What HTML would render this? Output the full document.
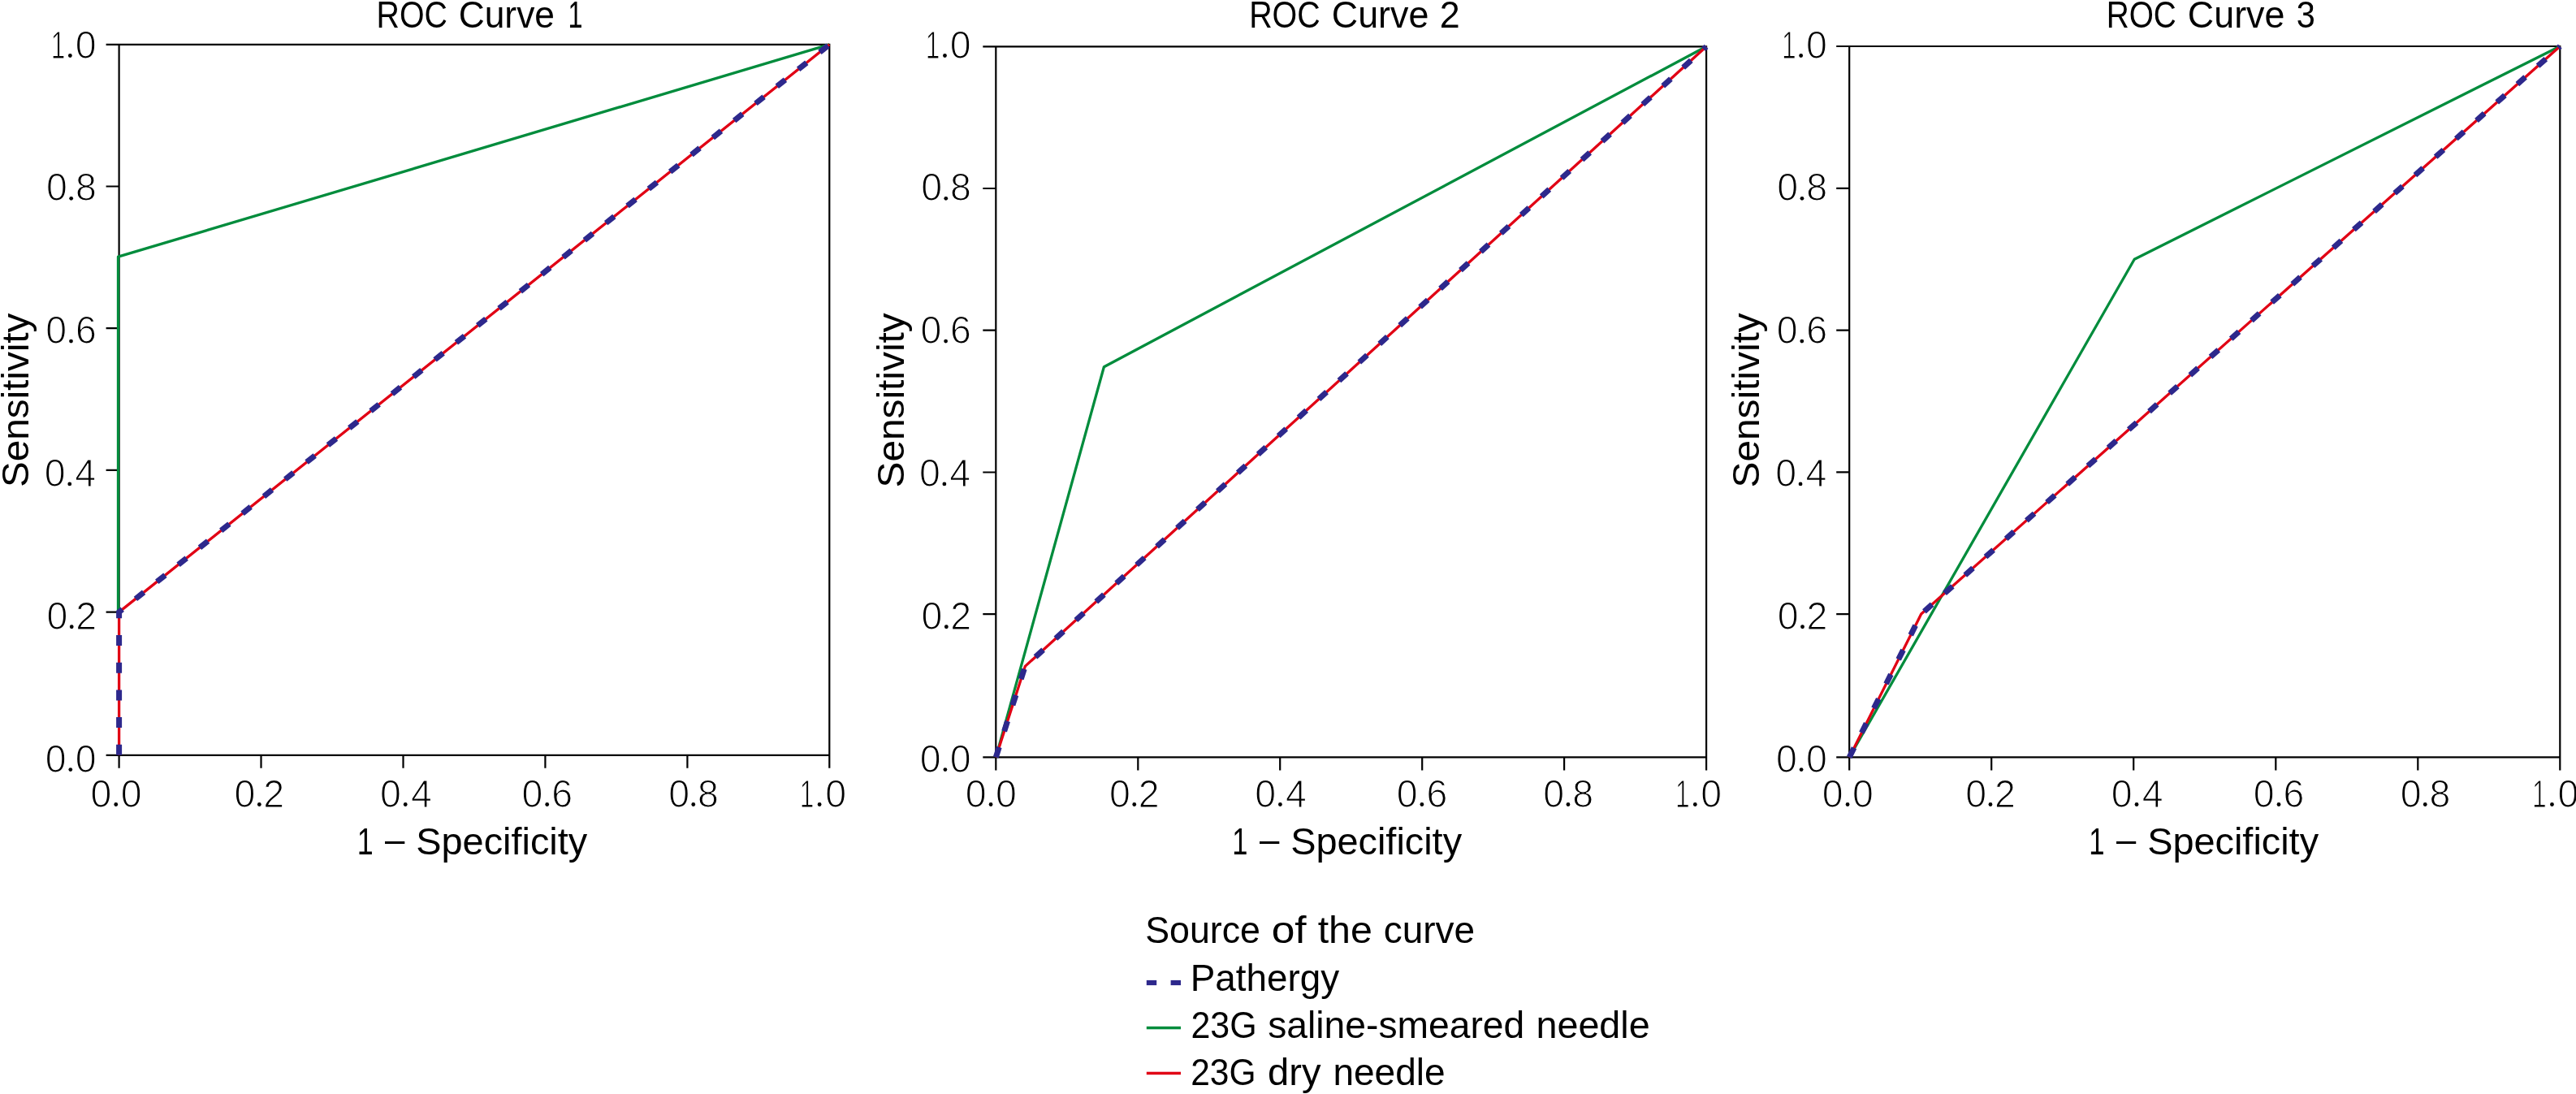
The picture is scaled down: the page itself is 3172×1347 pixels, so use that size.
<!DOCTYPE html>
<html><head><meta charset="utf-8"><style>
html,body{margin:0;padding:0;background:#fff;width:3172px;height:1347px;overflow:hidden}
svg{display:block;will-change:transform}
text{font-family:"Liberation Sans", sans-serif;fill:#000;white-space:pre}
.t{stroke:#fff;stroke-width:1.2px;paint-order:normal}
</style></head><body>
<svg width="3172" height="1347" viewBox="0 0 3172 1347">

<path d="M130.6,54.8H1021.3V945.8M146.6,54.8V945.8M130.6,929.8H1021.3" fill="none" stroke="#000" stroke-width="2.2"/>
<path d="M130.6,753.6H146.6M321.5,929.8V945.8M130.6,578.9H146.6M496.5,929.8V945.8M130.6,404.2H146.6M671.4,929.8V945.8M130.6,229.5H146.6M846.4,929.8V945.8" fill="none" stroke="#000" stroke-width="2.2"/>
<polyline points="145.5,753.6 145.5,316.2 1021.3,54.8" fill="none" stroke="#008c3c" stroke-width="3.3" stroke-linejoin="round"/>
<polyline points="146.6,929.8 146.6,753.6 1021.3,54.8" fill="none" stroke="#e10014" stroke-width="3.3" stroke-linejoin="round"/>
<polyline points="146.6,929.8 146.6,753.6 1021.3,54.8" fill="none" stroke="#2d288c" stroke-width="7" stroke-dasharray="13 20.7" stroke-linejoin="miter"/>
<path d="M1210.3,57.3H2101.1V948.4M1226.3,57.3V948.4M1210.3,932.4H2101.1" fill="none" stroke="#000" stroke-width="2.2"/>
<path d="M1210.3,756.2H1226.3M1401.3,932.4V948.4M1210.3,581.5H1226.3M1576.2,932.4V948.4M1210.3,406.7H1226.3M1751.2,932.4V948.4M1210.3,232.0H1226.3M1926.1,932.4V948.4" fill="none" stroke="#000" stroke-width="2.2"/>
<polyline points="1226.3,932.4 1359.4,451.7 2101.1,57.3" fill="none" stroke="#008c3c" stroke-width="3.3" stroke-linejoin="round"/>
<polyline points="1226.3,932.4 1262.3,820.4 2101.1,57.3" fill="none" stroke="#e10014" stroke-width="3.3" stroke-linejoin="round"/>
<polyline points="1226.3,932.4 1262.3,820.4 2101.1,57.3" fill="none" stroke="#2d288c" stroke-width="7" stroke-dasharray="13 20.7" stroke-linejoin="miter"/>
<path d="M2261.2,57.0H3152.3V948.4M2277.2,57.0V948.4M2261.2,932.4H3152.3" fill="none" stroke="#000" stroke-width="2.2"/>
<path d="M2261.2,756.1H2277.2M2452.2,932.4V948.4M2261.2,581.3H2277.2M2627.2,932.4V948.4M2261.2,406.6H2277.2M2802.3,932.4V948.4M2261.2,231.8H2277.2M2977.3,932.4V948.4" fill="none" stroke="#000" stroke-width="2.2"/>
<polyline points="2277.2,932.4 2628.2,319.2 3152.3,57.0" fill="none" stroke="#008c3c" stroke-width="3.3" stroke-linejoin="round"/>
<polyline points="2277.2,932.4 2365.7,756.1 3152.3,57.0" fill="none" stroke="#e10014" stroke-width="3.3" stroke-linejoin="round"/>
<polyline points="2277.2,932.4 2365.7,756.1 3152.3,57.0" fill="none" stroke="#2d288c" stroke-width="7" stroke-dasharray="13 20.7" stroke-linejoin="miter"/>
<rect x="1411.8" y="1206.9" width="12.4" height="6.2" fill="#2d288c"/>
<rect x="1441.6" y="1206.9" width="12.4" height="6.2" fill="#2d288c"/>
<rect x="1411.8" y="1263.8" width="42.2" height="3.5" fill="#008c3c"/>
<rect x="1411.8" y="1319.7" width="42.2" height="3.5" fill="#e10014"/>
<text x="463.55" y="33.60" font-size="47.1" textLength="87.41" lengthAdjust="spacingAndGlyphs">ROC</text>
<text x="564.68" y="33.60" font-size="47.1" textLength="118.30" lengthAdjust="spacingAndGlyphs">Curve</text>
<text x="699.57" y="33.60" font-size="47.1" textLength="18.00" lengthAdjust="spacingAndGlyphs">1</text>
<text x="1538.15" y="33.60" font-size="47.1" textLength="87.62" lengthAdjust="spacingAndGlyphs">ROC</text>
<text x="1639.76" y="33.60" font-size="47.1" textLength="119.65" lengthAdjust="spacingAndGlyphs">Curve</text>
<text x="1772.86" y="33.60" font-size="47.1" textLength="24.94" lengthAdjust="spacingAndGlyphs">2</text>
<text x="2593.70" y="33.60" font-size="47.1" textLength="86.14" lengthAdjust="spacingAndGlyphs">ROC</text>
<text x="2693.86" y="33.60" font-size="47.1" textLength="119.55" lengthAdjust="spacingAndGlyphs">Curve</text>
<text x="2827.64" y="33.60" font-size="47.1" textLength="23.07" lengthAdjust="spacingAndGlyphs">3</text>
<text x="439.71" y="1051.90" font-size="47.0" textLength="19.93" lengthAdjust="spacingAndGlyphs">1</text>
<text x="474.00" y="1048.60" font-size="47.0" textLength="24.35" lengthAdjust="spacingAndGlyphs">–</text>
<text x="512.29" y="1051.90" font-size="47.0" textLength="210.88" lengthAdjust="spacingAndGlyphs">Specificity</text>
<text x="1517.32" y="1051.90" font-size="47.0" textLength="19.16" lengthAdjust="spacingAndGlyphs">1</text>
<text x="1550.90" y="1048.60" font-size="47.0" textLength="24.35" lengthAdjust="spacingAndGlyphs">–</text>
<text x="1589.19" y="1051.90" font-size="47.0" textLength="210.88" lengthAdjust="spacingAndGlyphs">Specificity</text>
<text x="2572.20" y="1051.90" font-size="47.0" textLength="19.29" lengthAdjust="spacingAndGlyphs">1</text>
<text x="2605.90" y="1048.60" font-size="47.0" textLength="24.25" lengthAdjust="spacingAndGlyphs">–</text>
<text x="2644.19" y="1051.90" font-size="47.0" textLength="210.88" lengthAdjust="spacingAndGlyphs">Specificity</text>
<text transform="translate(35.10,600.04) rotate(-90)" x="0" y="0" font-size="47.0" textLength="214.42" lengthAdjust="spacingAndGlyphs">Sensitivity</text>
<text transform="translate(1112.70,600.45) rotate(-90)" x="0" y="0" font-size="47.0" textLength="215.13" lengthAdjust="spacingAndGlyphs">Sensitivity</text>
<text transform="translate(2166.00,600.45) rotate(-90)" x="0" y="0" font-size="47.0" textLength="215.13" lengthAdjust="spacingAndGlyphs">Sensitivity</text>
<text class="t" x="55.64" y="950.55" font-size="48.5" textLength="25.84" lengthAdjust="spacingAndGlyphs">0</text>
<text class="t" x="92.66" y="950.55" font-size="48.5" textLength="25.84" lengthAdjust="spacingAndGlyphs">0</text>
<circle cx="86.80" cy="947.55" r="2.4"/>
<text class="t" x="57.44" y="774.74" font-size="48.5" textLength="25.84" lengthAdjust="spacingAndGlyphs">0</text>
<text class="t" x="93.24" y="774.74" font-size="48.5" textLength="25.84" lengthAdjust="spacingAndGlyphs">2</text>
<circle cx="88.22" cy="771.74" r="2.4"/>
<text class="t" x="54.84" y="598.93" font-size="48.5" textLength="25.84" lengthAdjust="spacingAndGlyphs">0</text>
<text class="t" x="92.19" y="598.93" font-size="48.5" textLength="25.84" lengthAdjust="spacingAndGlyphs">4</text>
<circle cx="85.76" cy="595.93" r="2.4"/>
<text class="t" x="56.34" y="423.12" font-size="48.5" textLength="25.84" lengthAdjust="spacingAndGlyphs">0</text>
<text class="t" x="92.89" y="423.12" font-size="48.5" textLength="25.84" lengthAdjust="spacingAndGlyphs">6</text>
<circle cx="87.50" cy="420.12" r="2.4"/>
<text class="t" x="57.04" y="247.31" font-size="48.5" textLength="25.84" lengthAdjust="spacingAndGlyphs">0</text>
<text class="t" x="92.89" y="247.31" font-size="48.5" textLength="25.84" lengthAdjust="spacingAndGlyphs">8</text>
<circle cx="87.67" cy="244.31" r="2.4"/>
<text class="t" x="62.72" y="71.50" font-size="48.5" textLength="17.62" lengthAdjust="spacingAndGlyphs">1</text>
<text class="t" x="92.66" y="71.50" font-size="48.5" textLength="25.84" lengthAdjust="spacingAndGlyphs">0</text>
<circle cx="86.36" cy="68.50" r="2.4"/>
<text class="t" x="1132.74" y="950.55" font-size="48.5" textLength="25.84" lengthAdjust="spacingAndGlyphs">0</text>
<text class="t" x="1169.76" y="950.55" font-size="48.5" textLength="25.84" lengthAdjust="spacingAndGlyphs">0</text>
<circle cx="1163.90" cy="947.55" r="2.4"/>
<text class="t" x="1134.54" y="774.74" font-size="48.5" textLength="25.84" lengthAdjust="spacingAndGlyphs">0</text>
<text class="t" x="1170.34" y="774.74" font-size="48.5" textLength="25.84" lengthAdjust="spacingAndGlyphs">2</text>
<circle cx="1165.32" cy="771.74" r="2.4"/>
<text class="t" x="1131.94" y="598.93" font-size="48.5" textLength="25.84" lengthAdjust="spacingAndGlyphs">0</text>
<text class="t" x="1169.29" y="598.93" font-size="48.5" textLength="25.84" lengthAdjust="spacingAndGlyphs">4</text>
<circle cx="1162.86" cy="595.93" r="2.4"/>
<text class="t" x="1133.44" y="423.12" font-size="48.5" textLength="25.84" lengthAdjust="spacingAndGlyphs">0</text>
<text class="t" x="1169.99" y="423.12" font-size="48.5" textLength="25.84" lengthAdjust="spacingAndGlyphs">6</text>
<circle cx="1164.60" cy="420.12" r="2.4"/>
<text class="t" x="1134.14" y="247.31" font-size="48.5" textLength="25.84" lengthAdjust="spacingAndGlyphs">0</text>
<text class="t" x="1169.99" y="247.31" font-size="48.5" textLength="25.84" lengthAdjust="spacingAndGlyphs">8</text>
<circle cx="1164.77" cy="244.31" r="2.4"/>
<text class="t" x="1139.82" y="71.50" font-size="48.5" textLength="17.62" lengthAdjust="spacingAndGlyphs">1</text>
<text class="t" x="1169.76" y="71.50" font-size="48.5" textLength="25.84" lengthAdjust="spacingAndGlyphs">0</text>
<circle cx="1163.46" cy="68.50" r="2.4"/>
<text class="t" x="2186.94" y="950.55" font-size="48.5" textLength="25.84" lengthAdjust="spacingAndGlyphs">0</text>
<text class="t" x="2223.96" y="950.55" font-size="48.5" textLength="25.84" lengthAdjust="spacingAndGlyphs">0</text>
<circle cx="2218.10" cy="947.55" r="2.4"/>
<text class="t" x="2188.74" y="774.74" font-size="48.5" textLength="25.84" lengthAdjust="spacingAndGlyphs">0</text>
<text class="t" x="2224.54" y="774.74" font-size="48.5" textLength="25.84" lengthAdjust="spacingAndGlyphs">2</text>
<circle cx="2219.52" cy="771.74" r="2.4"/>
<text class="t" x="2186.14" y="598.93" font-size="48.5" textLength="25.84" lengthAdjust="spacingAndGlyphs">0</text>
<text class="t" x="2223.49" y="598.93" font-size="48.5" textLength="25.84" lengthAdjust="spacingAndGlyphs">4</text>
<circle cx="2217.06" cy="595.93" r="2.4"/>
<text class="t" x="2187.64" y="423.12" font-size="48.5" textLength="25.84" lengthAdjust="spacingAndGlyphs">0</text>
<text class="t" x="2224.19" y="423.12" font-size="48.5" textLength="25.84" lengthAdjust="spacingAndGlyphs">6</text>
<circle cx="2218.80" cy="420.12" r="2.4"/>
<text class="t" x="2188.34" y="247.31" font-size="48.5" textLength="25.84" lengthAdjust="spacingAndGlyphs">0</text>
<text class="t" x="2224.19" y="247.31" font-size="48.5" textLength="25.84" lengthAdjust="spacingAndGlyphs">8</text>
<circle cx="2218.97" cy="244.31" r="2.4"/>
<text class="t" x="2194.02" y="71.50" font-size="48.5" textLength="17.62" lengthAdjust="spacingAndGlyphs">1</text>
<text class="t" x="2223.96" y="71.50" font-size="48.5" textLength="25.84" lengthAdjust="spacingAndGlyphs">0</text>
<circle cx="2217.66" cy="68.50" r="2.4"/>
<text class="t" x="111.54" y="993.50" font-size="48.5" textLength="25.84" lengthAdjust="spacingAndGlyphs">0</text>
<text class="t" x="148.66" y="993.50" font-size="48.5" textLength="25.84" lengthAdjust="spacingAndGlyphs">0</text>
<circle cx="142.75" cy="990.50" r="2.4"/>
<text class="t" x="288.54" y="993.50" font-size="48.5" textLength="25.84" lengthAdjust="spacingAndGlyphs">0</text>
<text class="t" x="324.34" y="993.50" font-size="48.5" textLength="25.84" lengthAdjust="spacingAndGlyphs">2</text>
<circle cx="319.32" cy="990.50" r="2.4"/>
<text class="t" x="468.04" y="993.50" font-size="48.5" textLength="25.84" lengthAdjust="spacingAndGlyphs">0</text>
<text class="t" x="505.89" y="993.50" font-size="48.5" textLength="25.84" lengthAdjust="spacingAndGlyphs">4</text>
<circle cx="499.21" cy="990.50" r="2.4"/>
<text class="t" x="642.44" y="993.50" font-size="48.5" textLength="25.84" lengthAdjust="spacingAndGlyphs">0</text>
<text class="t" x="679.19" y="993.50" font-size="48.5" textLength="25.84" lengthAdjust="spacingAndGlyphs">6</text>
<circle cx="673.70" cy="990.50" r="2.4"/>
<text class="t" x="823.14" y="993.50" font-size="48.5" textLength="25.84" lengthAdjust="spacingAndGlyphs">0</text>
<text class="t" x="858.99" y="993.50" font-size="48.5" textLength="25.84" lengthAdjust="spacingAndGlyphs">8</text>
<circle cx="853.77" cy="990.50" r="2.4"/>
<text class="t" x="984.72" y="993.50" font-size="48.5" textLength="17.62" lengthAdjust="spacingAndGlyphs">1</text>
<text class="t" x="1016.16" y="993.50" font-size="48.5" textLength="25.84" lengthAdjust="spacingAndGlyphs">0</text>
<circle cx="1009.11" cy="990.50" r="2.4"/>
<text class="t" x="1188.84" y="993.50" font-size="48.5" textLength="25.84" lengthAdjust="spacingAndGlyphs">0</text>
<text class="t" x="1225.96" y="993.50" font-size="48.5" textLength="25.84" lengthAdjust="spacingAndGlyphs">0</text>
<circle cx="1220.05" cy="990.50" r="2.4"/>
<text class="t" x="1365.99" y="993.50" font-size="48.5" textLength="25.84" lengthAdjust="spacingAndGlyphs">0</text>
<text class="t" x="1401.79" y="993.50" font-size="48.5" textLength="25.84" lengthAdjust="spacingAndGlyphs">2</text>
<circle cx="1396.77" cy="990.50" r="2.4"/>
<text class="t" x="1545.24" y="993.50" font-size="48.5" textLength="25.84" lengthAdjust="spacingAndGlyphs">0</text>
<text class="t" x="1583.09" y="993.50" font-size="48.5" textLength="25.84" lengthAdjust="spacingAndGlyphs">4</text>
<circle cx="1576.41" cy="990.50" r="2.4"/>
<text class="t" x="1719.64" y="993.50" font-size="48.5" textLength="25.84" lengthAdjust="spacingAndGlyphs">0</text>
<text class="t" x="1756.39" y="993.50" font-size="48.5" textLength="25.84" lengthAdjust="spacingAndGlyphs">6</text>
<circle cx="1750.90" cy="990.50" r="2.4"/>
<text class="t" x="1900.34" y="993.50" font-size="48.5" textLength="25.84" lengthAdjust="spacingAndGlyphs">0</text>
<text class="t" x="1936.19" y="993.50" font-size="48.5" textLength="25.84" lengthAdjust="spacingAndGlyphs">8</text>
<circle cx="1930.97" cy="990.50" r="2.4"/>
<text class="t" x="2062.92" y="993.50" font-size="48.5" textLength="17.62" lengthAdjust="spacingAndGlyphs">1</text>
<text class="t" x="2094.36" y="993.50" font-size="48.5" textLength="25.84" lengthAdjust="spacingAndGlyphs">0</text>
<circle cx="2087.31" cy="990.50" r="2.4"/>
<text class="t" x="2243.84" y="993.50" font-size="48.5" textLength="25.84" lengthAdjust="spacingAndGlyphs">0</text>
<text class="t" x="2280.96" y="993.50" font-size="48.5" textLength="25.84" lengthAdjust="spacingAndGlyphs">0</text>
<circle cx="2275.05" cy="990.50" r="2.4"/>
<text class="t" x="2420.19" y="993.50" font-size="48.5" textLength="25.84" lengthAdjust="spacingAndGlyphs">0</text>
<text class="t" x="2455.99" y="993.50" font-size="48.5" textLength="25.84" lengthAdjust="spacingAndGlyphs">2</text>
<circle cx="2450.97" cy="990.50" r="2.4"/>
<text class="t" x="2599.84" y="993.50" font-size="48.5" textLength="25.84" lengthAdjust="spacingAndGlyphs">0</text>
<text class="t" x="2637.69" y="993.50" font-size="48.5" textLength="25.84" lengthAdjust="spacingAndGlyphs">4</text>
<circle cx="2631.01" cy="990.50" r="2.4"/>
<text class="t" x="2774.74" y="993.50" font-size="48.5" textLength="25.84" lengthAdjust="spacingAndGlyphs">0</text>
<text class="t" x="2811.49" y="993.50" font-size="48.5" textLength="25.84" lengthAdjust="spacingAndGlyphs">6</text>
<circle cx="2806.00" cy="990.50" r="2.4"/>
<text class="t" x="2955.64" y="993.50" font-size="48.5" textLength="25.84" lengthAdjust="spacingAndGlyphs">0</text>
<text class="t" x="2991.49" y="993.50" font-size="48.5" textLength="25.84" lengthAdjust="spacingAndGlyphs">8</text>
<circle cx="2986.27" cy="990.50" r="2.4"/>
<text class="t" x="3118.07" y="993.50" font-size="48.5" textLength="17.62" lengthAdjust="spacingAndGlyphs">1</text>
<text class="t" x="3149.51" y="993.50" font-size="48.5" textLength="25.84" lengthAdjust="spacingAndGlyphs">0</text>
<circle cx="3142.46" cy="990.50" r="2.4"/>
<text x="1410.19" y="1160.90" font-size="47.0" textLength="141.76" lengthAdjust="spacingAndGlyphs">Source</text>
<text x="1565.71" y="1160.90" font-size="47.0" textLength="42.94" lengthAdjust="spacingAndGlyphs">of</text>
<text x="1622.68" y="1160.90" font-size="47.0" textLength="67.19" lengthAdjust="spacingAndGlyphs">the</text>
<text x="1703.75" y="1160.90" font-size="47.0" textLength="112.42" lengthAdjust="spacingAndGlyphs">curve</text>
<text x="1465.82" y="1219.90" font-size="47.0" textLength="183.29" lengthAdjust="spacingAndGlyphs">Pathergy</text>
<text x="1466.45" y="1277.80" font-size="47.0" textLength="81.18" lengthAdjust="spacingAndGlyphs">23G</text>
<text x="1561.23" y="1277.80" font-size="47.0" textLength="316.03" lengthAdjust="spacingAndGlyphs">saline-smeared</text>
<text x="1891.45" y="1277.80" font-size="47.0" textLength="140.26" lengthAdjust="spacingAndGlyphs">needle</text>
<text x="1466.18" y="1336.20" font-size="47.0" textLength="80.32" lengthAdjust="spacingAndGlyphs">23G</text>
<text x="1561.10" y="1336.20" font-size="47.0" textLength="65.48" lengthAdjust="spacingAndGlyphs">dry</text>
<text x="1641.39" y="1336.20" font-size="47.0" textLength="138.29" lengthAdjust="spacingAndGlyphs">needle</text>
</svg></body></html>
